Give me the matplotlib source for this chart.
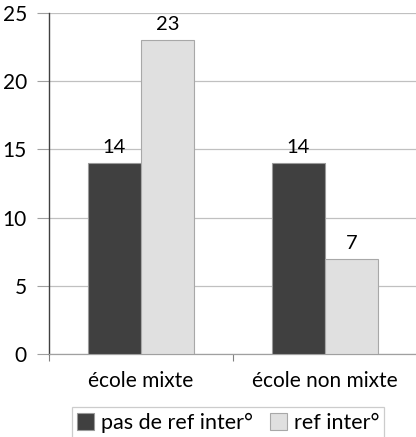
import matplotlib
matplotlib.use("Agg")
import matplotlib.pyplot as plt
import numpy as np

categories = ["école mixte", "école non mixte"]
series_names = ["pas de ref inter°", "ref inter°"]
pas_de_ref = [14, 14]
ref = [23, 7]
yticks = [0, 5, 10, 15, 20, 25]

plt.rcParams['font.family'] = ['Lato', 'DejaVu Sans']

fig = plt.figure(figsize=(4.16, 4.37), dpi=100)
ax = fig.add_axes([49/416, 83/437, 368/416, 341/437])

x = np.arange(len(categories))
w = 0.29
off = 0.145
b1 = ax.bar(x - off, pas_de_ref, w, color="#404040", edgecolor="#9a9a9a", linewidth=0.8, label=series_names[0], zorder=3)
b2 = ax.bar(x + off, ref, w, color="#e0e0e0", edgecolor="#a8a8a8", linewidth=0.8, label=series_names[1], zorder=3)

for bars, vals in ((b1, pas_de_ref), (b2, ref)):
    for r, v in zip(bars, vals):
        ax.text(r.get_x() + r.get_width()/2, v + 0.5, str(v), ha="center", va="bottom", fontsize=14.5, color="black")

ax.set_xlim(-0.5, 1.5)
ax.set_ylim(0, 25)
ax.set_yticks(yticks)
ax.tick_params(axis='y', length=9, width=0.8, color="#a0a0a0", labelsize=15, pad=7)
ax.yaxis.grid(True, color="#c0c0c0", linewidth=0.9, zorder=0)
ax.set_xticks(x)
ax.set_xticklabels(categories, fontsize=15)
ax.tick_params(axis='x', length=0, pad=12)
ax.set_xticks([-0.5, 0.5, 1.5], minor=True)
ax.tick_params(axis='x', which='minor', length=5, width=0.8, color="#808080")

for s in ("top", "right"):
    ax.spines[s].set_visible(False)
ax.spines["left"].set_color("#404040")
ax.spines["left"].set_linewidth(1.0)
ax.spines["bottom"].set_color("#a0a0a0")
ax.spines["bottom"].set_linewidth(0.9)

leg = fig.legend(handles=[b1, b2], labels=series_names, loc="upper center", bbox_to_anchor=(0.548, 0.068),
                 ncol=2, frameon=True, fancybox=False, edgecolor="#c0c0c0", fontsize=15.5,
                 handlelength=0.8, handleheight=0.8, handletextpad=0.3, columnspacing=0.8, borderpad=0.25,
                 borderaxespad=0)
leg.get_frame().set_linewidth(0.9)

fig.savefig("out.png", dpi=100)
